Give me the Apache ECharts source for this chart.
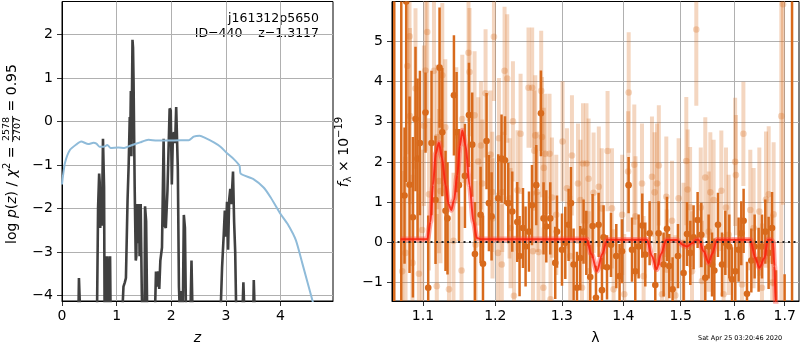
<!DOCTYPE html>
<html><head><meta charset="utf-8">
<script src="https://cdn.jsdelivr.net/npm/echarts@6/dist/echarts.min.js"></script>
<style>html,body{margin:0;padding:0;background:#fff}#c{width:800px;height:350px}</style>
</head><body><div id="c"></div>
<script>
// ---------- tick labels ----------
const zTicks = [0, 1, 2, 3, 4];
const logpTicks = [-4, -3, -2, -1, 0, 1, 2];
const lamTicks = [1.1, 1.2, 1.3, 1.4, 1.5, 1.6, 1.7];
const fluxTicks = [-1, 0, 1, 2, 3, 4, 5];
const zRange = [0, 4.96];
const logpRange = [-4.13, 2.76];
const lamRange = [1.0598, 1.7294];
const fluxRange = [-1.47, 6.0];

// ---------- left panel: p(z) ----------
const pzZ = [0.0,0.30,0.31,0.33,0.335,0.64,0.66,0.68,0.69,0.70,0.72,0.73,0.75,0.77,0.78,0.80,0.81,0.82,0.83,0.84,0.87,0.88,0.89,
  1.10,1.125,1.15,1.17,1.20,1.22,1.24,1.25,1.26,1.27,1.29,1.30,1.31,1.33,1.35,1.36,1.37,1.39,1.41,1.42,1.44,1.46,1.47,
  1.51,1.52,1.54,1.56,1.70,1.72,1.74,1.76,1.78,1.80,1.83,1.86,1.88,1.90,1.93,1.97,1.99,2.01,2.03,2.05,2.07,2.09,2.11,2.12,2.14,2.16,2.19,2.21,2.23,2.25,2.27,
  2.35,2.37,2.39,2.90,2.93,2.96,2.98,3.00,3.02,3.04,3.06,3.08,3.10,3.13,3.15,3.17,3.19,3.30,3.32,3.34,3.50,3.51,3.53,4.96];
const pzLogp = [-4.5,-4.5,-3.6,-3.6,-4.5,-4.5,-2.0,-1.2,-1.4,-2.45,-1.6,-2.4,-0.4,-1.5,-4.5,-4.5,-3.1,-4.5,-3.1,-4.5,-4.5,-3.1,-4.5,
  -4.5,-3.8,-3.7,-3.6,-1.8,-1.0,0.1,-0.3,0.7,-0.8,1.88,1.7,0.9,-1.5,-3.2,-3.1,-1.9,-2.8,-1.9,-3.1,-1.9,-3.9,-4.5,
  -4.5,-1.95,-2.3,-4.5,-4.5,-3.45,-3.8,-3.45,-3.85,-3.2,-2.9,-0.4,-2.4,-2.45,-1.6,0.3,0.25,-1.45,-0.3,-0.25,-0.5,0.33,0.3,-1.1,-3.8,-4.5,-3.9,-4.5,-2.15,-2.45,-4.5,
  -4.5,-3.2,-4.5,-4.5,-3.35,-2.6,-2.05,-2.65,-1.85,-2.95,-1.8,-1.55,-1.9,-1.15,-2.3,-3.0,-4.5,-4.5,-3.7,-4.5,-4.5,-3.65,-4.5,-4.5];
const tplZ = [0.0,0.01,0.055,0.147,0.27,0.35,0.48,0.575,0.63,0.685,0.76,0.83,0.89,1.03,1.14,1.25,1.43,1.58,1.74,1.92,2.17,2.32,2.41,2.52,2.61,2.78,2.90,3.02,3.14,3.25,3.27,3.51,3.69,3.82,4.0,4.13,4.28,4.40,4.58,4.66];
const tplLogp = [-1.45,-1.33,-0.95,-0.65,-0.52,-0.46,-0.52,-0.49,-0.51,-0.58,-0.58,-0.54,-0.61,-0.60,-0.61,-0.56,-0.48,-0.42,-0.44,-0.44,-0.43,-0.43,-0.35,-0.33,-0.37,-0.48,-0.58,-0.73,-0.86,-1.02,-1.2,-1.33,-1.52,-1.75,-2.13,-2.36,-2.73,-3.27,-4.1,-4.5];

// ---------- right panel: spectrum ----------
const darkLam = [1.0627,1.0717,1.0759,1.0781,1.0824,1.0868,1.0902,1.0929,1.0960,1.1034,1.1070,1.1114,1.1168,1.1222,1.1259,1.1303,1.1330,1.1418,1.1454,1.1487,1.1570,1.1626,1.1672,1.1710,1.1790,1.1824,1.1875,1.1909,1.1947,
  1.2043,1.2091,1.2141,1.2189,1.2248,1.2322,1.2356,1.2407,1.2446,1.2497,1.2542,1.2607,1.2678,1.2718,1.2760,1.2821,1.2898,1.2925,1.3003,1.3055,1.3107,1.3144,1.3186,1.3240,1.3292,1.3345,1.3389,1.3453,1.3491,1.3546,1.3589,1.3644,1.3670,1.3727,1.3793,1.3881,1.3936,1.3977,
  1.4088,1.4146,1.4202,1.4259,1.4322,1.4374,1.4449,1.4548,1.4606,1.4694,1.4754,1.4795,1.4854,1.4951,1.5052,1.5114,1.5174,1.5234,1.5308,1.5376,1.5450,1.5512,1.5576,1.5619,1.5688,1.5764,1.5827,1.5903,1.5955,
  1.6018,1.6082,1.6134,1.6179,1.6245,1.6330,1.6395,1.6474,1.6541,1.6607,1.6673,1.6742,1.6822,1.6997,1.7150];
const darkFlux = [15,15,1.16,6.0,1.43,0.62,3.07,2.08,2.47,3.23,-1.14,2.47,1.05,4.35,2.74,0.78,0.59,3.66,2.74,1.42,1.65,3.17,2.43,-0.30,0.68,-0.54,2.52,0.97,0.64,
  1.09,2.08,2.04,0.97,0.76,0.50,-0.35,0.35,-0.11,0.26,0.92,1.42,3.21,0.59,0.39,0.59,-0.52,0.26,-0.19,-0.02,0.43,0.97,-0.56,-1.14,-0.40,0.26,-0.02,-0.87,0.40,-1.39,0.43,-1.20,0.12,-0.63,-0.07,-0.35,-0.85,-0.23,
  1.42,-0.19,-0.73,-0.11,0.41,-0.31,0.22,-1.07,0.22,-0.56,0.33,-0.60,-1.18,-0.35,-0.77,0.20,-0.27,0.12,0.55,0.18,-0.89,-0.11,-0.56,-0.71,0.43,-0.56,-0.02,-0.11,-0.93,
  -0.73,-0.19,0.22,0.53,-1.29,-0.46,-0.11,-0.44,-0.11,0.26,-0.27,0.35,-2.6,-2.8,15];
const darkErr = [25,25,1.7,4.5,2.2,2.0,1.8,2.0,1.8,1.0,1.8,1.8,1.6,1.5,1.6,1.5,1.4,1.5,1.5,1.4,1.3,1.3,1.3,1.3,1.2,1.2,1.2,1.2,1.1,
  1.1,1.1,1.1,1.0,1.0,1.0,1.0,1.0,1.0,1.0,1.0,1.0,1.07,0.9,0.9,0.9,0.9,0.9,0.9,0.9,0.9,0.9,0.9,0.9,0.8,0.8,0.8,0.8,0.8,0.8,0.8,0.8,0.8,0.8,0.8,0.8,0.8,0.8,
  0.7,0.8,0.8,0.8,0.8,0.8,0.8,0.8,0.8,0.8,0.8,0.8,0.8,0.8,0.8,0.8,0.8,0.8,0.7,0.8,0.8,0.8,0.8,0.8,0.8,0.8,0.8,0.8,0.8,
  0.8,0.8,0.8,0.8,0.8,0.8,0.8,0.8,0.8,0.8,0.9,0.9,1.9,2.0,25];

const lightLam = [1.0729,1.0772,1.0794,1.0824,1.0830,1.0862,1.0902,1.0947,1.0991,1.1013,1.1034,1.1057,1.1080,1.1147,1.1185,1.1191,1.1214,1.1235,1.1259,1.1300,1.1350,1.1412,1.1450,1.1523,1.1533,1.1620,1.1634,1.1705,1.1719,1.1757,1.1795,1.1814,1.1861,1.1932,1.1957,1.1960,1.1981,
  1.2040,1.2053,1.2095,1.2101,1.2135,1.2174,1.2208,1.2223,1.2258,1.2273,1.2325,1.2371,1.2490,1.2545,1.2557,1.2577,1.2592,1.2618,1.2642,1.2682,1.2694,1.2715,1.2722,1.2744,1.2810,1.2825,1.2847,1.2914,
  1.3012,1.3081,1.3133,1.3160,1.3256,1.3295,1.3320,1.3336,1.3392,1.3426,1.3430,1.3507,1.3592,1.3640,1.3736,1.3809,1.3836,1.3980,1.4015,1.4080,1.4090,1.4185,1.4205,1.4317,1.4345,1.4490,1.4536,1.4578,1.4610,1.4666,1.4742,1.4750,1.4844,1.4903,1.4962,
  1.5050,1.5101,1.5125,1.5170,1.5205,1.5284,1.5366,1.5389,1.5450,1.5515,1.5544,1.5606,1.5751,1.5794,1.5840,1.5890,1.6015,1.6030,1.6148,1.6175,1.6310,1.6375,1.6488,1.6540,1.6621,1.6675,1.6745,1.6774,1.6930,1.6965];
const lightFlux = [-0.73,-0.27,4.39,5.13,3.14,-0.52,3.83,-0.79,0.30,2.90,4.28,5.24,1.19,4.27,-1.10,2.62,1.52,1.27,4.16,2.86,-1.18,0.03,2.66,-0.71,3.07,4.72,4.24,3.16,-0.07,2.01,2.41,1.46,3.71,2.18,1.25,0.59,5.12,
  -0.27,2.59,-0.56,1.25,4.27,4.08,1.09,0.35,3.01,-1.34,1.29,2.70,3.85,3.85,-0.23,2.28,2.66,1.25,-0.25,3.77,2.62,-1.14,1.85,2.20,2.20,-1.43,1.11,0.68,
  2.51,1.34,-0.35,2.16,1.46,1.05,-1.14,1.96,1.96,1.58,-0.73,1.23,1.38,0.84,2.27,0.84,-1.18,0.68,-1.30,1.76,3.73,1.93,0.64,1.46,-0.85,1.63,1.24,1.46,1.91,-1.30,1.13,-0.69,0.53,-1.33,1.09,
  -0.02,2.02,1.31,0.87,-0.73,5.30,0.86,-0.97,1.61,0.26,1.24,1.05,1.28,-1.30,0.86,0.18,2.00,1.67,-1.06,2.70,0.80,0.35,0.76,-1.14,1.06,1.19,-1.01,0.69,3.14,5.93];
const lightErr = [2.5,2.4,2.2,2.2,2.2,2.2,2.0,2.0,2.0,2.0,2.0,2.0,1.9,1.8,1.8,1.8,1.8,1.8,1.8,1.7,1.7,1.7,1.7,1.6,1.6,1.7,1.6,1.6,1.6,1.6,1.6,1.6,1.6,1.6,1.5,1.5,1.6,
  1.5,1.5,1.5,1.5,1.6,1.6,1.5,1.5,1.5,1.5,1.5,1.5,1.5,1.5,1.5,1.5,1.5,1.5,1.5,1.5,1.5,1.5,1.5,1.5,1.5,1.5,1.5,1.5,
  1.5,1.5,1.5,1.5,1.5,1.5,1.5,1.5,1.5,1.5,1.5,1.5,1.5,1.5,1.5,1.5,1.5,1.5,1.5,1.5,1.5,1.5,1.5,1.5,1.5,1.5,1.5,1.5,1.5,1.5,1.5,1.5,1.5,1.5,1.5,
  1.5,1.6,1.5,1.5,1.5,1.9,1.5,1.5,1.5,1.5,1.5,1.5,1.5,1.5,1.5,1.5,1.6,1.5,1.5,1.3,1.5,1.5,1.6,1.6,1.7,1.7,1.7,1.8,5,5];

const modelLam = [1.0707,1.1057,1.1100,1.1133,1.1170,1.1213,1.1255,1.1303,1.1345,1.1381,1.1420,1.1464,1.1500,1.1533,1.1580,1.1634,1.1690,1.1737,1.1800,
  1.3395,1.3470,1.3562,1.3650,1.3727,1.4403,1.4490,1.4571,1.4650,1.4740,1.4930,1.5050,1.5114,1.5205,1.5297,1.5330,1.5422,1.5512,1.5576,1.5669,
  1.6310,1.6408,1.6489,1.6590,1.6655,1.6722,1.6760,1.6790,1.6815,1.6840];
const modelFlux = [0.07,0.07,0.5,1.42,2.2,2.48,2.1,1.42,0.95,0.80,1.05,1.67,2.4,2.78,2.4,1.42,0.5,0.1,0.07,
  0.07,-0.3,-0.72,-0.3,0.06,0.06,-0.35,-0.68,-0.3,0.05,0.05,-0.08,-0.11,-0.03,0.06,0.05,-0.23,-0.52,-0.3,0.06,
  0.06,-0.4,-0.64,-0.4,0.05,0.06,0.0,-0.6,-1.5,-2.5];

// ---------- texts ----------
const nameLine = 'j161312p5650';
const idLine = 'ID=440    z=1.3117';
const stamp = 'Sat Apr 25 03:20:46 2020';

const FF = '"DejaVu Sans", sans-serif';
const fmtNum = v => String(v).replace('-', '\u2212');

function buildLabel(parts, cx, cy) {
  const ctx = document.createElement('canvas').getContext('2d');
  const items = []; let x = 0;
  parts.forEach(p => {
    const style = (t) => ({text: t, fontSize: p.size || 14, fontStyle: p.italic ? 'italic' : 'normal', fontFamily: FF, fill: '#000'});
    ctx.font = (p.italic ? 'italic ' : '') + (p.size || 14) + 'px ' + FF;
    if (p.num) {
      const w = Math.max(ctx.measureText(p.num).width, ctx.measureText(p.den).width) + 2;
      items.push({type: 'text', x: x + w / 2, y: -5.5, style: Object.assign(style(p.num), {align: 'center', verticalAlign: 'middle'})});
      items.push({type: 'text', x: x + w / 2, y: 5.0, style: Object.assign(style(p.den), {align: 'center', verticalAlign: 'middle'})});
      items.push({type: 'line', shape: {x1: x, y1: 0, x2: x + w, y2: 0}, style: {stroke: '#000', lineWidth: 0.8}});
      x += w;
    } else {
      const w = ctx.measureText(p.t).width;
      items.push({type: 'text', x: x, y: p.dy || 0, style: Object.assign(style(p.t), {align: 'left', verticalAlign: 'middle'})});
      x += w;
    }
  });
  items.forEach(it => {
    if (it.type === 'line') { it.shape.x1 -= x / 2; it.shape.x2 -= x / 2; } else { it.x -= x / 2; }
  });
  return {type: 'group', x: cx, y: cy, rotation: Math.PI / 2, children: items};
}

const leftYLabel = buildLabel([
  {t: 'log '}, {t: 'p', italic: true}, {t: '('}, {t: 'z', italic: true}, {t: ') / '},
  {t: '\u03c7', italic: true}, {t: '2', size: 10, dy: -5}, {t: ' = '},
  {num: '2578', den: '2707', size: 9.5}, {t: ' = 0.95'}
], 12.5, 154);
const rightYLabel = buildLabel([
  {t: 'f', italic: true}, {t: '\u03bb', size: 10, dy: 4}, {t: ' \u00d7 10'}, {t: '\u221219', size: 10, dy: -5.5}
], 344.5, 152);

function errItem(color, opacity, lw, r) {
  return function (params, api) {
    const x = api.value(0), y = api.value(1), e = api.value(2);
    const a = api.coord([x, y - e]), b = api.coord([x, y + e]), c = api.coord([x, y]);
    return {type: 'group', children: [
      {type: 'line', shape: {x1: a[0], y1: a[1], x2: b[0], y2: b[1]}, style: {stroke: color, lineWidth: lw, opacity: opacity}},
      {type: 'circle', shape: {cx: c[0], cy: c[1], r: r}, style: {fill: color, opacity: opacity}}
    ]};
  };
}

const ORANGE = '#d86a1c';
const lnL = v => Math.log(v);

const axisCommon = {
  axisLine: {show: true, onZero: false, lineStyle: {color: '#000', width: 1}},
  axisTick: {show: true, length: 5, lineStyle: {color: '#000', width: 0.8}},
  splitLine: {show: true, lineStyle: {color: '#b0b0b0', width: 1}},
  axisLabel: {color: '#000', fontSize: 14, fontFamily: FF}
};
function mk(extra, ticks, fmt, margin) {
  const o = JSON.parse(JSON.stringify(axisCommon));
  Object.assign(o, extra);
  o.axisLabel.customValues = ticks; o.axisLabel.formatter = fmt; o.axisLabel.margin = margin;
  o.axisTick.customValues = ticks;
  return o;
}

const option = {
  animation: false,
  grid: [
    {left: 62, top: 1.5, width: 271, height: 302.5, show: true, borderColor: '#000', borderWidth: 1},
    {left: 392, top: 1.5, width: 407, height: 302.5, show: true, borderColor: '#000', borderWidth: 1}
  ],
  xAxis: [
    mk({gridIndex: 0, type: 'value', min: zRange[0], max: zRange[1], name: 'z', nameLocation: 'middle', nameGap: 30,
        nameTextStyle: {fontSize: 14, fontStyle: 'italic', fontFamily: FF, color: '#000'}},
       zTicks, v => fmtNum(v), 8),
    mk({gridIndex: 1, type: 'value', min: lnL(lamRange[0]), max: lnL(lamRange[1]), name: '\u03bb', nameLocation: 'middle', nameGap: 30,
        nameTextStyle: {fontSize: 14, fontFamily: FF, color: '#000'}},
       lamTicks.map(lnL), v => Math.exp(v).toFixed(1), 8)
  ],
  yAxis: [
    mk({gridIndex: 0, type: 'value', min: logpRange[0], max: logpRange[1]}, logpTicks, v => fmtNum(v), 9),
    mk({gridIndex: 1, type: 'value', min: fluxRange[0], max: fluxRange[1]}, fluxTicks, v => fmtNum(v), 9)
  ],
  series: [
    {type: 'line', xAxisIndex: 0, yAxisIndex: 0, data: pzZ.map((z, i) => [z, pzLogp[i]]), showSymbol: false, symbol: 'none',
     lineStyle: {color: '#404040', width: 2.6}, clip: true, z: 3},
    {type: 'line', xAxisIndex: 0, yAxisIndex: 0, data: tplZ.map((z, i) => [z, tplLogp[i]]), showSymbol: false, symbol: 'none',
     smooth: 0.2, lineStyle: {color: '#8fbbd9', width: 2}, clip: true, z: 4},
    {type: 'custom', xAxisIndex: 1, yAxisIndex: 1, clip: true, z: 2,
     renderItem: errItem(ORANGE, 0.28, 4, 3.3), data: lightLam.map((l, i) => [lnL(l), lightFlux[i], lightErr[i]])},
    {type: 'custom', xAxisIndex: 1, yAxisIndex: 1, clip: true, z: 3,
     renderItem: errItem(ORANGE, 1, 2.5, 3.3), data: darkLam.map((l, i) => [lnL(l), darkFlux[i], darkErr[i]])},
    {type: 'line', xAxisIndex: 1, yAxisIndex: 1, data: modelLam.map((l, i) => [lnL(l), modelFlux[i]]), symbol: 'none',
     smooth: 0.3, smoothMonotone: 'x', lineStyle: {color: 'rgba(255,70,60,0.45)', width: 5.5}, clip: true, z: 4},
    {type: 'line', xAxisIndex: 1, yAxisIndex: 1, data: modelLam.map((l, i) => [lnL(l), modelFlux[i]]), symbol: 'none',
     smooth: 0.3, smoothMonotone: 'x', lineStyle: {color: 'rgba(250,30,10,0.85)', width: 2}, clip: true, z: 5},
    {type: 'line', xAxisIndex: 1, yAxisIndex: 1, data: [[lnL(lamRange[0]), 0], [lnL(lamRange[1]), 0]], symbol: 'none',
     lineStyle: {color: '#222', width: 2, type: [2, 3.5]}, z: 6}
  ],
  graphic: [
    {type: 'text', right: 800 - 319, top: 12, style: {text: nameLine, fontSize: 12.5, fontFamily: FF, fill: '#000', align: 'right'}},
    {type: 'text', right: 800 - 319, top: 27, style: {text: idLine, fontSize: 12.5, fontFamily: FF, fill: '#000', align: 'right'}},
    {type: 'text', left: 698, top: 335, style: {text: stamp, fontSize: 6.5, fontFamily: FF, fill: '#000'}},
    leftYLabel, rightYLabel
  ]
};
const chart = echarts.init(document.getElementById('c'), null, {renderer: 'canvas'});
chart.setOption(option);
</script></body></html>
